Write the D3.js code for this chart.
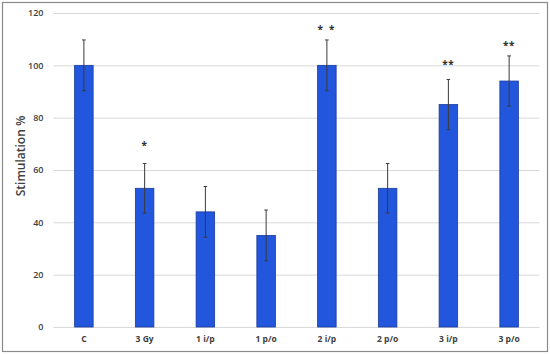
<!DOCTYPE html>
<html><head><meta charset="utf-8">
<script src="https://cdn.jsdelivr.net/npm/d3@7"></script>
<style>body{margin:0;background:#fff}svg{display:block}</style>
</head><body>
<script>
const categories = ["C","3 Gy","1 i/p","1 p/o","2 i/p","2 p/o","3 i/p","3 p/o"];
const values = [100, 53, 44, 35, 100, 53, 85, 94];
const errors = [9.7, 9.5, 9.7, 9.7, 9.7, 9.5, 9.6, 9.6];
const sigLabels = ["", "*", "", "", "* *", "", "**", "**"];
const sigLevels = [null, 70.3, null, null, 114.5, null, 101.2, 108.5];
const yTicks = [0, 20, 40, 60, 80, 100, 120];
const yLabel = "Stimulation %";

const W = 550, H = 354;
const svg = d3.select("body").append("svg").attr("width", W).attr("height", H);
svg.append("rect").attr("x", 2.5).attr("y", 2.5).attr("width", 545).attr("height", 349)
  .attr("fill", "#fff").attr("stroke", "#8a8a8a").attr("stroke-width", 1.2);

const x = d3.scaleBand().domain(categories).range([53.5, 539.5]).paddingInner(0.695).paddingOuter(0.3475);
const y = d3.scaleLinear().domain([0, 120]).range([327, 13]);

const font = "'Open Sans', 'Liberation Sans', sans-serif";

// gridlines + y ticks
const yAxis = d3.axisLeft(y).tickValues(yTicks).tickSize(-(539.5 - 53.5)).tickPadding(10);
const ga = svg.append("g").attr("transform", "translate(53.5,0)").call(yAxis);
ga.select(".domain").remove();
ga.selectAll(".tick line").attr("stroke", "#d9d9d9").attr("stroke-width", 1);
ga.selectAll(".tick text").attr("fill", "#404040").style("font-family", font)
  .style("font-size", "9px").style("font-weight", 600);

// x labels
const xAxis = d3.axisBottom(x).tickSize(0).tickPadding(9);
const gx = svg.append("g").attr("transform", "translate(0,327)").call(xAxis);
gx.select(".domain").remove();
gx.selectAll(".tick text").attr("fill", "#404040").style("font-family", font)
  .style("font-size", "8.5px").style("font-weight", 700);

// bars
svg.append("g").selectAll("rect").data(categories).join("rect")
  .attr("x", d => x(d)).attr("width", x.bandwidth())
  .attr("y", (d, i) => y(values[i])).attr("height", (d, i) => y(0) - y(values[i]))
  .attr("fill", "#2256dc").attr("stroke", "#1a3c9c").attr("stroke-width", 0.8);

// error bars
const eg = svg.append("g").attr("stroke", "#3a3a3a").attr("stroke-width", 1);
categories.forEach((c, i) => {
  const cx = x(c) + x.bandwidth() / 2;
  const top = y(values[i] + errors[i]), bot = y(values[i] - errors[i]);
  eg.append("line").attr("x1", cx).attr("x2", cx).attr("y1", top).attr("y2", bot);
  eg.append("line").attr("x1", cx - 1.8).attr("x2", cx + 1.8).attr("y1", top).attr("y2", top);
  eg.append("line").attr("x1", cx - 1.8).attr("x2", cx + 1.8).attr("y1", bot).attr("y2", bot);
});

// significance stars
svg.append("g").selectAll("text").data(categories.filter((c, i) => sigLabels[i])).join("text")
  .attr("x", d => x(d) + x.bandwidth() / 2)
  .attr("y", d => y(sigLevels[categories.indexOf(d)]) + 5.5)
  .attr("text-anchor", "middle").attr("fill", "#303030")
  .style("font-family", font).style("font-size", "10px").style("font-weight", 700)
  .style("letter-spacing", d => sigLabels[categories.indexOf(d)] === "* *" ? "1.7px" : "0.6px")
  .style("white-space", "pre").attr("xml:space", "preserve")
  .text(d => sigLabels[categories.indexOf(d)]);

// y label
svg.append("text").attr("transform", "translate(25,156) rotate(-90)")
  .attr("text-anchor", "middle").attr("fill", "#404040")
  .style("font-family", font).style("font-size", "12px").style("font-weight", 600)
  .text(yLabel);
</script>
</body></html>
